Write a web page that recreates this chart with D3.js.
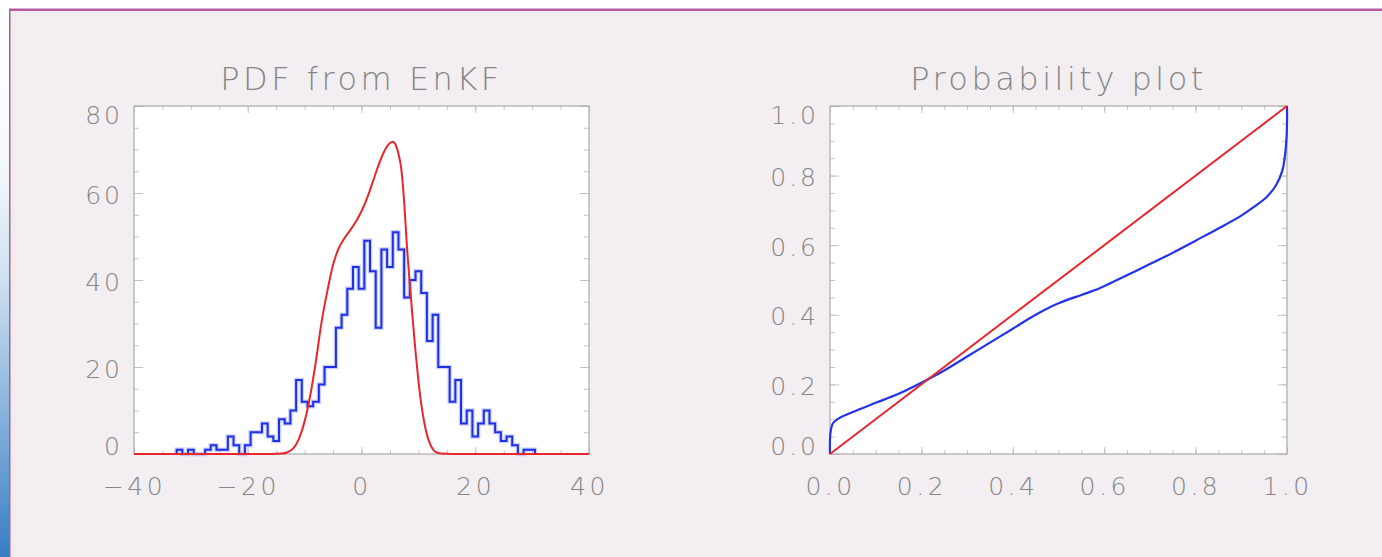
<!DOCTYPE html>
<html>
<head>
<meta charset="utf-8">
<script src="https://cdn.jsdelivr.net/npm/d3@7"></script>
<style>
  body { margin: 0; background: #f3eef1; }
  svg { display: block; }
  text { font-family: "DejaVu Sans", sans-serif; font-weight: 200; fill: #858585; }
</style>
</head>
<body>
<svg></svg>
<script>
// ensemble histogram, one unit wide bins
let binCenters = [-32, -31, -30, -29, -28, -27, -26, -25, -24, -23, -22, -21, -20, -19, -18, -17,
                  -16, -15, -14, -13, -12, -11, -10, -9, -8, -7, -6, -5, -4, -3, -2, -1,
                  0, 1, 2, 3, 4, 5, 6, 7, 8, 9, 10, 11, 12, 13, 14, 15,
                  16, 17, 18, 19, 20, 21, 22, 23, 24, 25, 26, 27, 28, 29, 30]
let binCounts = [1, 0, 1, 0, 0, 1, 2, 1, 1, 4, 2, 0, 2, 5, 5, 7,
                 4, 3, 8, 7, 10, 17, 12, 11, 12, 16, 20, 20, 29, 32, 38, 43,
                 38, 49, 42, 29, 47, 43, 51, 47, 36, 40, 42, 37, 26, 32, 20, 20,
                 12, 17, 7, 10, 4, 7, 10, 7, 5, 3, 4, 2, 0, 1, 1]

// smooth pdf (red)
let pdfX = [-40, -16, -14, -13, -12, -11, -10, -9, -8, -7, -6, -5, -4, -3, -2, -1, 0, 1, 2, 3, 4,
            5, 5.5, 6, 6.5, 7, 7.5, 8, 8.5, 9, 9.5, 10, 10.5, 11, 11.5, 12, 12.5, 13, 14, 16, 40]
let pdfY = [0, 0, 0.1, 0.4, 1.3, 3.5, 7.5, 13.5, 21.5, 30.5, 37.5, 43.5, 47.3, 49.6, 51.4, 53.4, 55.8, 58.9, 62.6, 66.4, 69.6,
            71.5, 71.8, 71.1, 69, 65.5, 58, 47.5, 39, 31, 23.5, 17, 11.5, 7.5, 4.5, 2.5, 1.2, 0.5, 0.1, 0, 0]

// probability plot (blue) and the diagonal (red)
let probX = [0, 0.001, 0.006, 0.02, 0.05, 0.1, 0.15, 0.2, 0.25, 0.3, 0.35, 0.4, 0.45, 0.5, 0.55, 0.58,
             0.62, 0.66, 0.7, 0.75, 0.8, 0.85, 0.9, 0.93, 0.955, 0.975, 0.99, 0.998, 1.0, 1.0]
let probY = [0, 0.06, 0.087, 0.103, 0.121, 0.147, 0.173, 0.205, 0.24, 0.28, 0.32, 0.36, 0.4, 0.433, 0.457, 0.471,
             0.495, 0.52, 0.546, 0.578, 0.613, 0.648, 0.685, 0.712, 0.738, 0.77, 0.815, 0.89, 0.95, 1.0]
let diagX = [0, 1]
let diagY = [0, 1]

let pdfXTicks = [-40, -20, 0, 20, 40]
let pdfYTicks = [0, 20, 40, 60, 80]
let probTicks = [0, 0.2, 0.4, 0.6, 0.8, 1.0]

let width = 1382
let height = 557

let svg = d3.select("svg")
            .attr("width", width)
            .attr("height", height)

let drawBackground = () => {
  let grad = svg.append("defs").append("linearGradient")
                .attr("id", "side")
                .attr("x1", 0).attr("y1", 0).attr("x2", 0).attr("y2", 1)
  grad.append("stop").attr("offset", 0).attr("stop-color", "#ffffff")
  grad.append("stop").attr("offset", 0.28).attr("stop-color", "#f7fafd")
  grad.append("stop").attr("offset", 0.5).attr("stop-color", "#cfe0f1")
  grad.append("stop").attr("offset", 0.75).attr("stop-color", "#86b1db")
  grad.append("stop").attr("offset", 1).attr("stop-color", "#377dc4")

  svg.append("rect").attr("width", width).attr("height", height).attr("fill", "#f3eef1")
  svg.append("rect").attr("width", width).attr("height", 9).attr("fill", "#ffffff")
  svg.append("rect").attr("width", 9).attr("height", height).attr("fill", "url(#side)")
  svg.append("rect").attr("x", 9).attr("y", 8.5).attr("width", width - 9).attr("height", 2.5).attr("fill", "#b45ba3")
  svg.append("rect").attr("x", 9).attr("y", 9).attr("width", 1.5).attr("height", height - 9).attr("fill", "#8c6e8a")
  svg.append("rect").attr("x", 11).attr("y", 11).attr("width", 3).attr("height", height - 11).attr("fill", "#fbe6f0")
  svg.append("rect").attr("x", 15).attr("y", 11).attr("width", 3).attr("height", height - 11).attr("fill", "#f8e9f1")
}

// IDL style box: ticks inward on all four sides, labels on left and bottom
let drawFrame = (g, xScale, yScale, xMajor, xMinor, yMajor, yMinor, xFmt, yFmt) => {
  let [x0, x1] = xScale.range()
  let [y1, y0] = yScale.range()

  g.append("rect")
   .attr("x", x0).attr("y", y0)
   .attr("width", x1 - x0).attr("height", y1 - y0)
   .attr("fill", "#ffffff")

  let axes = [
    [d3.axisBottom(xScale).tickValues(xMinor).tickSize(-4), y1, "y"],
    [d3.axisTop(xScale).tickValues(xMinor).tickSize(-4), y0, "y"],
    [d3.axisBottom(xScale).tickValues(xMajor).tickSize(-7), y1, "y"],
    [d3.axisTop(xScale).tickValues(xMajor).tickSize(-7), y0, "y"],
    [d3.axisLeft(yScale).tickValues(yMinor).tickSize(-5), x0, "x"],
    [d3.axisRight(yScale).tickValues(yMinor).tickSize(-5), x1, "x"],
    [d3.axisLeft(yScale).tickValues(yMajor).tickSize(-9), x0, "x"],
    [d3.axisRight(yScale).tickValues(yMajor).tickSize(-9), x1, "x"]
  ]
  axes.forEach(([axis, pos, dir]) => {
    let a = g.append("g")
             .attr("transform", dir == "y" ? "translate(0," + pos + ")" : "translate(" + pos + ",0)")
             .call(axis.tickFormat(""))
    a.select(".domain").remove()
    a.selectAll(".tick line").attr("stroke", "#c3c3c3")
    a.selectAll("text").remove()
  })

  // labels
  let xl = g.append("g")
            .attr("transform", "translate(0," + y1 + ")")
            .call(d3.axisBottom(xScale).tickValues(xMajor).tickSize(0).tickPadding(23).tickFormat(xFmt))
  xl.select(".domain").remove()
  xl.selectAll("text").style("font-size", "25px").attr("fill", null).style("letter-spacing", "3.5px")

  let yl = g.append("g")
            .attr("transform", "translate(" + x0 + ",0)")
            .call(d3.axisLeft(yScale).tickValues(yMajor).tickSize(0).tickPadding(11).tickFormat(yFmt))
  yl.select(".domain").remove()
  yl.selectAll("text")
    .style("font-size", "25px").attr("fill", null).style("letter-spacing", "3px")
    .attr("y", (d, i) => i == 0 ? -8 : (i == yMajor.length - 1 ? 9 : 2))

  g.append("rect")
   .attr("x", x0).attr("y", y0)
   .attr("width", x1 - x0).attr("height", y1 - y0)
   .attr("fill", "none")
   .attr("stroke", "#ababab")
   .attr("stroke-width", 1.2)
}

let drawTitle = (txt, cx) => {
  svg.append("text")
     .text(txt)
     .attr("x", cx)
     .attr("y", 90)
     .attr("text-anchor", "middle")
     .style("font-size", "32px")
     .style("letter-spacing", "3.5px")
     .attr("fill", "#7f7f7f")
}

let drawPdf = () => {
  let xScale = d3.scaleLinear().domain([-40, 40]).range([134, 589])
  let yScale = d3.scaleLinear().domain([0, 80]).range([454, 106])
  let g = svg.append("g")

  drawFrame(g, xScale, yScale, pdfXTicks, d3.range(-40, 41, 5), pdfYTicks, d3.range(0, 81, 5),
            d3.format("d"), d3.format("d"))

  // step outline of the histogram
  let steps = [[binCenters[0] - 0.5, 0]]
  binCenters.forEach((c, i) => {
    steps.push([c - 0.5, binCounts[i]])
    steps.push([c + 0.5, binCounts[i]])
  })
  steps.push([binCenters[binCenters.length - 1] + 0.5, 0])

  let stepLine = d3.line().x(d => xScale(d[0])).y(d => yScale(d[1]))
  g.append("path").attr("d", stepLine(steps))
   .attr("fill", "none").attr("stroke", "#a9b2f6").attr("stroke-width", 4.5).attr("opacity", 0.6)
  g.append("path").attr("d", stepLine(steps))
   .attr("fill", "none").attr("stroke", "#1e30e6").attr("stroke-width", 2)

  let pdfLine = d3.line()
                  .x((d, i) => xScale(pdfX[i]))
                  .y((d, i) => yScale(pdfY[i]))
                  .curve(d3.curveMonotoneX)
  g.append("path").attr("d", pdfLine(pdfY))
   .attr("fill", "none").attr("stroke", "#e8262b").attr("stroke-width", 2)

  drawTitle("PDF from EnKF", (xScale.range()[0] + xScale.range()[1]) / 2)
}

let drawProb = () => {
  let xScale = d3.scaleLinear().domain([0, 1]).range([830, 1287])
  let yScale = d3.scaleLinear().domain([0, 1]).range([454, 106])
  let g = svg.append("g")

  drawFrame(g, xScale, yScale, probTicks, d3.range(0, 1.001, 0.05), probTicks, d3.range(0, 1.001, 0.05),
            d3.format(".1f"), d3.format(".1f"))

  let probLine = d3.line()
                   .x((d, i) => xScale(probX[i]))
                   .y((d, i) => yScale(probY[i]))
                   .curve(d3.curveCatmullRom.alpha(0.5))
  g.append("path").attr("d", probLine(probY))
   .attr("fill", "none").attr("stroke", "#2233e8").attr("stroke-width", 2.2)

  let diagLine = d3.line()
                   .x((d, i) => xScale(diagX[i]))
                   .y((d, i) => yScale(diagY[i]))
  g.append("path").attr("d", diagLine(diagY))
   .attr("fill", "none").attr("stroke", "#e8262b").attr("stroke-width", 2)

  drawTitle("Probability plot", (xScale.range()[0] + xScale.range()[1]) / 2)
}

drawBackground()
drawPdf()
drawProb()
</script>
</body>
</html>
